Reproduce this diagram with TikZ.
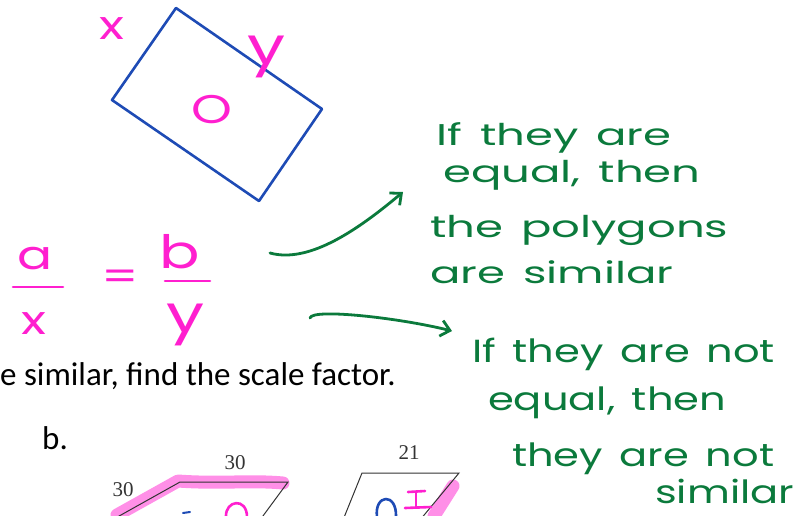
\documentclass[tikz,border=0pt]{standalone}
\usepackage{fontspec}
\setmainfont{Carlito}
\newfontfamily\handfont[FakeStretch=1.3,WordSpace=1.5]{Poppins}
\newfontfamily\handwide[FakeStretch=1.5,WordSpace=1.5]{Poppins}
\newfontfamily\timesfont{Liberation Serif}
\usetikzlibrary{arrows.meta,positioning}
\definecolor{inkgreen}{HTML}{0B7A3C}
\definecolor{inkpink}{HTML}{FF1FCF}
\definecolor{inkblue}{HTML}{1E4BB5}
\definecolor{printgray}{HTML}{333333}

\begin{document}
\begin{tikzpicture}[x=1pt,y=-1pt]
\tikzset{
  greenline/.style={anchor=base west,inner sep=0pt,text=inkgreen,font=\handwide\fontsize{30}{30}\selectfont},
  greenbig/.style={greenline,font=\handfont\fontsize{32}{32}\selectfont},
  pinkmark/.style={inner sep=0pt,text=inkpink,font=\handfont\fontsize{40}{40}\selectfont},
  pinkstroke/.style={draw=inkpink,line width=2.6pt,line cap=round},
  bluestroke/.style={draw=inkblue,line width=2.6pt,line cap=round,line join=round},
  greenarrow/.style={draw=inkgreen,line width=2.8pt,line cap=round,-{Straight Barb[length=9pt,width=16pt,line width=2.8pt]}},
  highlight/.style={draw=inkpink,opacity=0.5,line width=13pt,line cap=round,line join=round},
  printline/.style={draw=printgray,line width=1pt},
  printtext/.style={anchor=base west,inner sep=0pt,font=\fontsize{33}{33}\selectfont},
  sidelabel/.style={inner sep=0pt,text=printgray,font=\timesfont\fontsize{21}{21}\selectfont}
}
\useasboundingbox (0,0) rectangle (809,515);
\clip (0,0) rectangle (809,515);

% rotated rectangle
\coordinate (rt) at (176,8);
\coordinate (rr) at (322,109);
\coordinate (rb) at (259,201);
\coordinate (rl) at (112,100);
\draw[bluestroke] (rt) -- (rr) -- (rb) -- (rl) -- cycle;
\node[pinkmark] (sidex) at (112,29) {x};
\node[pinkmark,font=\handfont\fontsize{52}{52}\selectfont] (sidey) at (267,57) {y};
\node[pinkmark] (center) at (212,110) {O};

% ratio a/x = b/y
\node[pinkmark] (numa) at (35,259) {a};
\node[pinkmark] (denx) at (34,324) {x};
\node[pinkmark] (eq) at (120,280) {=};
\node[pinkmark,font=\handfont\fontsize{46}{46}\selectfont] (numb) at (180,252) {b};
\node[pinkmark,font=\handfont\fontsize{52}{52}\selectfont] (deny) at (186,325) {y};
\draw[pinkstroke] (13,287) -- (63,287);
\draw[pinkstroke] (165,281) -- (210,281);

% notes
\node[greenline] (simA) at (436,145) {If they are};
\node[greenline] (simB) at (443,182) {equal, then};
\node[greenline] (simC) at (430,237) {the polygons};
\node[greenline] (simD) at (430,283) {are similar};
\node[greenbig] (notA) at (472,362) {If they are not};
\node[greenbig] (notB) at (488,410) {equal, then};
\node[greenbig] (notC) at (512,466) {they are not};
\node[greenbig] (notD) at (655,503) {similar};

\coordinate (tailA) at (270,253);
\coordinate (headA) at (403,192);
\coordinate (tailB) at (310,318);
\coordinate (headB) at (452,331);
\draw[greenarrow] (tailA) .. controls (310,264) and (360,228) .. (headA);
\draw[greenarrow] (tailB) .. controls (312,308) and (400,318) .. (headB);

% printed worksheet
\node[printtext] (task) at (0,385) {e similar, find the scale factor.};
\node[printtext] (partb) at (42,449) {b.};

\coordinate (pa) at (180,482);
\coordinate (pb) at (288,482);
\coordinate (pc) at (260,520);
\coordinate (pd) at (112,520);
\draw[highlight] (117,515) -- (178,481) .. controls (220,484) and (250,480) .. (283,483);
\draw[printline] (pd) -- (pa) -- (pb) -- (pc);
\node[sidelabel] (topA) at (235,463) {30};
\node[sidelabel] (sideA) at (123,490) {30};
\draw[pinkstroke] (226,517) .. controls (225,500) and (247,497) .. (247,517);
\draw[bluestroke,line width=2pt] (183,513) -- (190,512);

\coordinate (qa) at (362,473);
\coordinate (qb) at (459,473);
\coordinate (qc) at (420,520);
\coordinate (qd) at (343,520);
\draw[highlight] (453,486) -- (434,516);
\draw[printline] (qd) -- (qa) -- (qb) -- (qc);
\node[sidelabel] (topB) at (409,453) {21};
\draw[bluestroke] (377,517) .. controls (374,494) and (397,492) .. (396,517);
\draw[pinkstroke] (408,492) -- (425,491);
\draw[pinkstroke] (416,492) -- (416,507);
\draw[pinkstroke] (405,508) -- (431,507);
\end{tikzpicture}
\end{document}
